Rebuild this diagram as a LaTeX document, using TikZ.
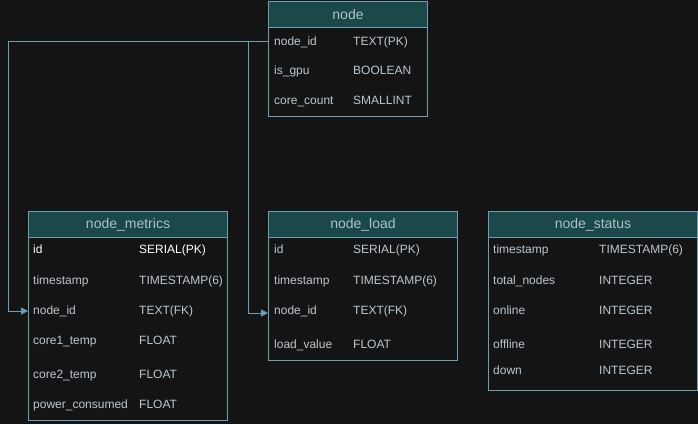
\documentclass[tikz,border=0pt]{standalone}
\usepackage{fontspec}
\setmainfont{Liberation Sans}
\usetikzlibrary{arrows.meta}
\definecolor{bg}{HTML}{141414}
\definecolor{hdr}{HTML}{1B4848}
\definecolor{bd}{HTML}{6E9DB6}
\definecolor{txt}{HTML}{BAC8D3}
\definecolor{hdrtxt}{HTML}{A9C2CE}
\tikzset{
  tbl/.style={draw=bd, line width=1pt, fill=bg, anchor=north west, inner sep=0pt},
  hdrbox/.style={draw=bd, line width=1pt, fill=hdr, anchor=north west, inner sep=0pt, minimum height=26pt, text=hdrtxt, font=\fontsize{14}{16}\selectfont},
  fld/.style={anchor=base west, inner sep=0pt, yshift=-4.3pt, text=txt, font=\fontsize{12}{14}\selectfont},
  fldw/.style={fld, text=white},
  conn/.style={draw=bd, line width=1pt, -{Triangle[length=7pt,width=7pt]}},
}
\begin{document}
\begin{tikzpicture}[x=1pt,y=-1pt]
\useasboundingbox[fill=bg] (0,0) rectangle (698,424);

% node table
\node[tbl, minimum width=159pt, minimum height=115pt] (tnode) at (268,1) {};
\node[hdrbox, minimum width=159pt] (hnode) at (268,1) {node};
\node[fld] (nid) at (274,41) {node\_id};
\node[fld] (ntid) at (353,41) {TEXT(PK)};
\node[fld] (ngpu) at (274,70) {is\_gpu};
\node[fld] (ntgpu) at (353,70) {BOOLEAN};
\node[fld] (ncc) at (274,100) {core\_count};
\node[fld] (ntcc) at (353,100) {SMALLINT};

% node_metrics
\node[tbl, minimum width=199pt, minimum height=209pt] (tmet) at (28,211) {};
\node[hdrbox, minimum width=199pt] (hmet) at (28,211) {node\_metrics};
\node[fldw] (mid) at (33,249) {id};
\node[fldw] (mtid) at (139,249) {SERIAL(PK)};
\node[fld] (mts) at (33,280) {timestamp};
\node[fld] (mtts) at (139,280) {TIMESTAMP(6)};
\node[fld] (mnid) at (33,310) {node\_id};
\node[fld] (mtnid) at (139,310) {TEXT(FK)};
\node[fld] (mc1) at (33,340) {core1\_temp};
\node[fld] (mtc1) at (139,340) {FLOAT};
\node[fld] (mc2) at (33,374) {core2\_temp};
\node[fld] (mtc2) at (139,374) {FLOAT};
\node[fld] (mpc) at (33,404) {power\_consumed};
\node[fld] (mtpc) at (139,404) {FLOAT};

% node_load
\node[tbl, minimum width=189pt, minimum height=149pt] (tload) at (268,211) {};
\node[hdrbox, minimum width=189pt] (hload) at (268,211) {node\_load};
\node[fld] (lid) at (274,249) {id};
\node[fld] (ltid) at (353,249) {SERIAL(PK)};
\node[fld] (lts) at (274,280) {timestamp};
\node[fld] (ltts) at (353,280) {TIMESTAMP(6)};
\node[fld] (lnid) at (274,310) {node\_id};
\node[fld] (ltnid) at (353,310) {TEXT(FK)};
\node[fld] (llv) at (274,344) {load\_value};
\node[fld] (ltlv) at (353,344) {FLOAT};

% node_status
\node[tbl, minimum width=209pt, minimum height=179pt] (tstat) at (488,211) {};
\node[hdrbox, minimum width=209pt] (hstat) at (488,211) {node\_status};
\node[fld] (sts) at (493,249) {timestamp};
\node[fld] (stts) at (599,249) {TIMESTAMP(6)};
\node[fld] (stn) at (493,280) {total\_nodes};
\node[fld] (sttn) at (599,280) {INTEGER};
\node[fld] (son) at (493,310) {online};
\node[fld] (ston) at (599,310) {INTEGER};
\node[fld] (sof) at (493,344) {offline};
\node[fld] (stof) at (599,344) {INTEGER};
\node[fld] (sdn) at (493,370) {down};
\node[fld] (stdn) at (599,370) {INTEGER};

% connectors
\coordinate (j1) at (8,41);
\coordinate (j2) at (248,41);
\coordinate (e1) at (28,311);
\coordinate (e2) at (268,313);
\draw[conn] (tnode.west |- j1) -- (j1) |- (e1);
\draw[conn] (j2) |- (e2);
\end{tikzpicture}
\end{document}
